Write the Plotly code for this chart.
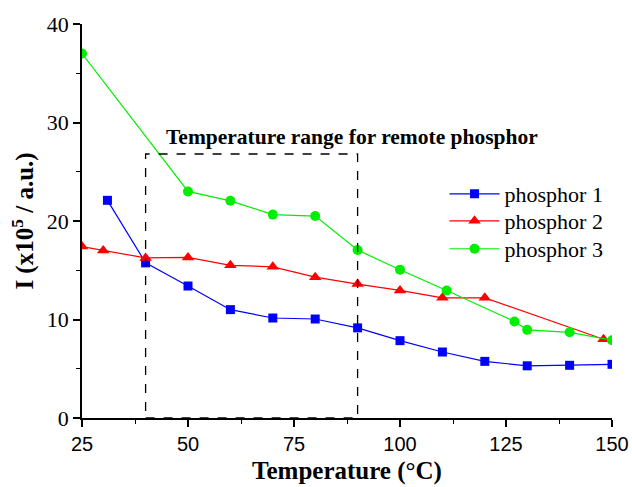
import plotly.graph_objects as go

# Data
p1_x = [31, 40, 50, 60, 70, 80, 90, 100, 110, 120, 130, 140, 150]
p1_y = [22.1, 15.75, 13.4, 11.0, 10.15, 10.05, 9.15, 7.85, 6.7, 5.75, 5.3, 5.35, 5.45]

p2_x = [25, 30, 40, 50, 60, 70, 80, 90, 100, 110, 120, 148]
p2_y = [17.4, 17.0, 16.25, 16.3, 15.5, 15.35, 14.3, 13.6, 12.95, 12.2, 12.2, 8.0]

p3_x = [25, 50, 60, 70, 80, 90, 100, 111, 127, 130, 140, 150]
p3_y = [37.0, 23.0, 22.05, 20.65, 20.5, 17.05, 15.05, 12.95, 9.8, 8.95, 8.7, 7.9]

names = ["phosphor 1", "phosphor 2", "phosphor 3"]
colors = ["#0000FF", "#FF0000", "#00EE00"]
symbols = ["square", "triangle-up", "circle"]
sizes = [9, 11, 10]

box_x = [40, 90]
box_top = 26.8
note_text = "Temperature range for remote phosphor"

SERIF = "'Liberation Serif', 'Times New Roman', serif"
SANS = "'Liberation Sans', Arial, sans-serif"

legend_ids = ["legend", "legend2", "legend3"]
legend_y = [0.5685, 0.5, 0.429]

fig = go.Figure()
for xs, ys, nm, c, s, sz, lg in zip([p1_x, p2_x, p3_x], [p1_y, p2_y, p3_y], names, colors, symbols, sizes, legend_ids):
    fig.add_trace(go.Scatter(
        x=xs, y=ys, name=nm, mode="lines+markers",
        line=dict(color=c, width=1.2),
        marker=dict(symbol=s, size=sz, color=c),
        legend=lg,
    ))

fig.add_shape(type="rect", xref="x", yref="y",
              x0=box_x[0], x1=box_x[1], y0=0, y1=box_top,
              line=dict(color="black", width=1.3, dash="dash"))

fig.add_annotation(x=88.7, y=28.5, xref="x", yref="y", showarrow=False,
                   text="<b>" + note_text + "</b>",
                   font=dict(family=SERIF, size=21.5, color="black"))

leg_common = dict(xanchor="left", yanchor="middle",
                  font=dict(family=SERIF, size=22, color="black"),
                  bgcolor="rgba(0,0,0,0)", itemwidth=50)

fig.update_layout(
    width=632, height=487,
    margin=dict(l=82, r=20, t=24, b=69),
    paper_bgcolor="white", plot_bgcolor="white",
    showlegend=True,
    legend=dict(x=0.684, y=legend_y[0], **leg_common),
    legend2=dict(x=0.684, y=legend_y[1], **leg_common),
    legend3=dict(x=0.684, y=legend_y[2], **leg_common),
    xaxis=dict(range=[25, 150], showline=True, linecolor="black", linewidth=1.5,
               ticks="outside", ticklen=7, tickwidth=1.5, tickcolor="black",
               dtick=25, tick0=25, showgrid=False, zeroline=False, automargin=False,
               minor=dict(ticks="outside", ticklen=4, tickwidth=1.2, dtick=12.5, tickcolor="black"),
               tickfont=dict(family=SANS, size=20, color="black"),
               title=dict(text="<b>Temperature (°C)</b>", standoff=8,
                          font=dict(family=SERIF, size=25, color="black"))),
    yaxis=dict(range=[0, 40], showline=True, linecolor="black", linewidth=1.5,
               ticks="outside", ticklen=7, tickwidth=1.5, tickcolor="black",
               dtick=10, showgrid=False, zeroline=False, automargin=False,
               minor=dict(ticks="outside", ticklen=4, tickwidth=1.2, dtick=5, tickcolor="black"),
               tickfont=dict(family=SERIF, size=22, color="black"),
               title=dict(text="<b>I (x10<sup>5</sup> / a.u.)</b>", standoff=6,
                          font=dict(family=SERIF, size=25, color="black"))),
)

fig.write_html("out.html")
